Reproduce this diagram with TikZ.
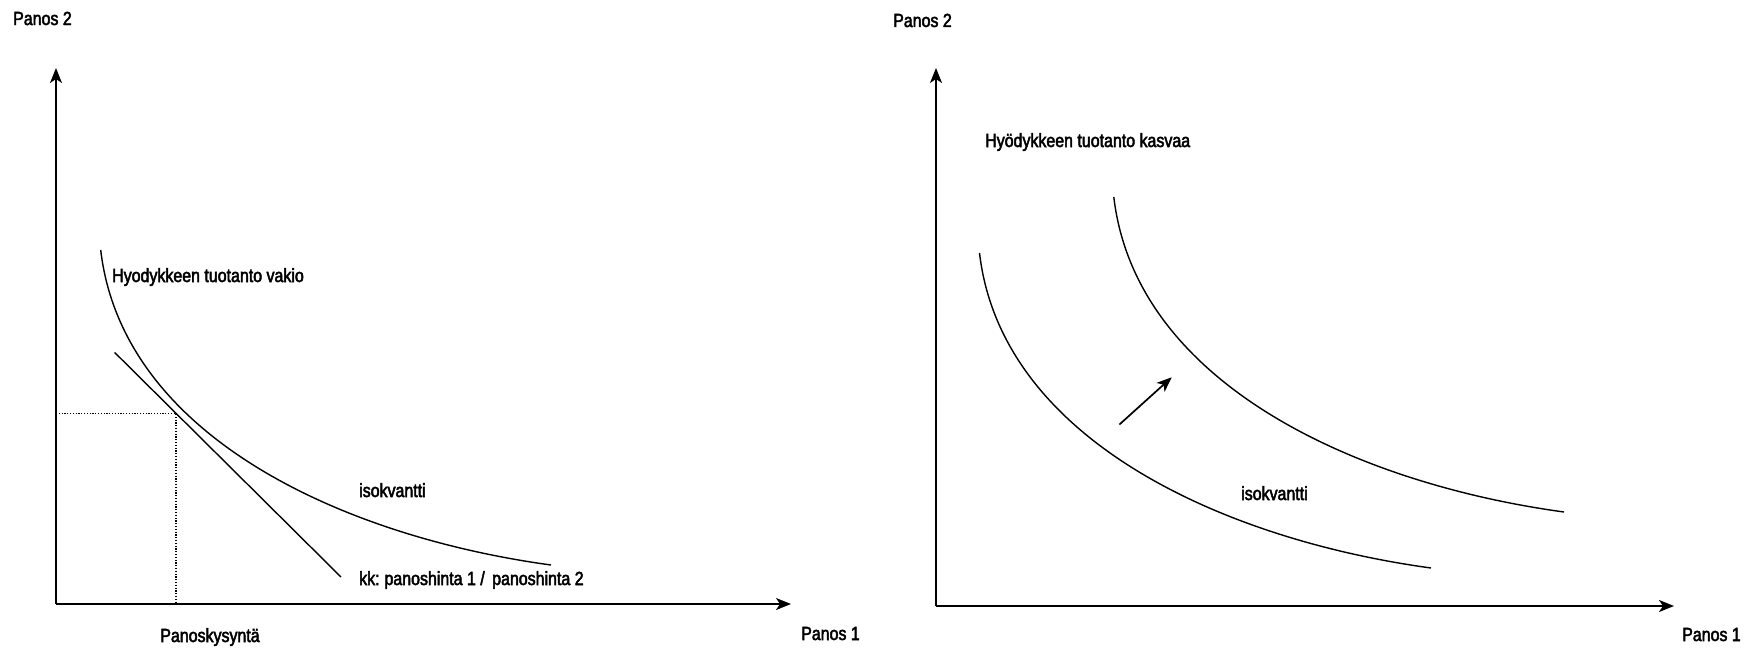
\documentclass[tikz,border=0pt]{standalone}
\usepackage{fontspec}
\setmainfont{Liberation Sans}[FakeStretch=0.84,FakeBold=2.6]
\usetikzlibrary{arrows.meta}
\tikzset{
  lbl/.style={anchor=base west, inner sep=0pt, font=\fontsize{19}{21}\selectfont},
  axisline/.style={line width=1.8pt, -{Stealth[length=15pt,width=12pt,inset=4pt]}},
  curveline/.style={line width=1.4pt},
  guideline/.style={line width=1.2pt, dash pattern=on 1.2pt off 1.6pt},
  shiftarrow/.style={line width=1.7pt, -{Stealth[length=15pt,width=12pt,inset=4pt]}}
}
\begin{document}
\begin{tikzpicture}[x=1pt,y=-1pt]
\useasboundingbox (0,0) rectangle (1752,653);
% ---------- left panel ----------
\coordinate (O1) at (56,604);
\coordinate (Y1) at (56,68);
\coordinate (X1) at (791,604);
\draw[axisline] (O1) -- (Y1);
\draw[axisline] (O1) -- (X1);
\coordinate (I1s) at (100.7,250);
\draw[curveline] (I1s) .. controls +(22,188) and +(-205,-28) .. +(450.3,315);
\coordinate (Ka) at (114.7,352.5);
\coordinate (Kb) at (341,577);
\draw[curveline] (Ka) -- (Kb);
\coordinate (T) at (176,413.5);
\coordinate (Ty) at (56,413.5);
\coordinate (Tx) at (176,604);
\draw[guideline] (Ty) -- (T) -- (Tx);
\node[lbl] (p2a) at (13,25) {Panos 2};
\node[lbl] (p1a) at (801,640) {Panos 1};
\node[lbl] (hv) at (112,282) {Hyodykkeen tuotanto vakio};
\node[lbl] (isoa) at (359,497) {isokvantti};
\node[lbl] (kk) at (359,585) {kk:\kern-1pt{} panoshinta 1 / \kern3pt panoshinta 2};
\node[lbl, anchor=base] (pk) at (210,642) {Panoskysyntä};
% ---------- right panel ----------
\coordinate (O2) at (936,606);
\coordinate (Y2) at (936,68);
\coordinate (X2) at (1674,606);
\draw[axisline] (O2) -- (Y2);
\draw[axisline] (O2) -- (X2);
\coordinate (I2s) at (979.5,253);
\coordinate (I3s) at (1113.8,197);
\draw[curveline] (I2s) .. controls +(22,188) and +(-205,-28) .. +(451.5,315);
\draw[curveline] (I3s) .. controls +(22,188) and +(-205,-28) .. +(450.2,315);
\coordinate (Aa) at (1119.4,424.5);
\coordinate (Ab) at (1171.7,377.3);
\draw[shiftarrow] (Aa) -- (Ab);
\node[lbl] (p2b) at (893,27) {Panos 2};
\node[lbl] (p1b) at (1682,641) {Panos 1};
\node[lbl] (hk) at (985,147) {Hyödykkeen tuotanto kasvaa};
\node[lbl] (isob) at (1241,500) {isokvantti};
\end{tikzpicture}
\end{document}
